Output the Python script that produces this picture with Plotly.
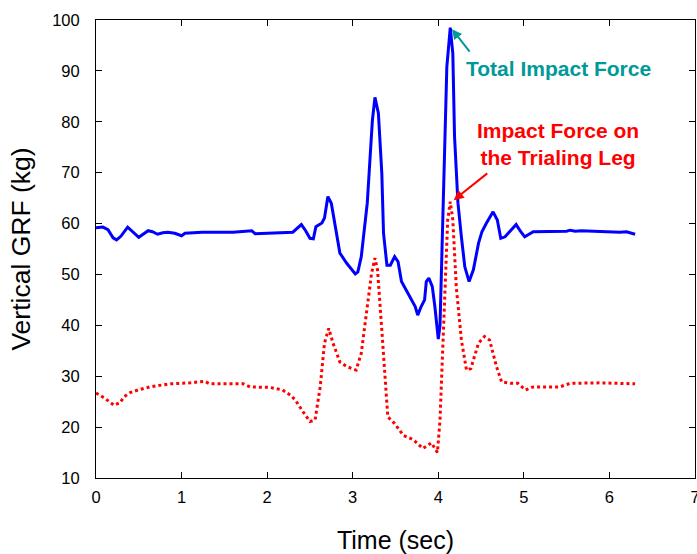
import plotly.graph_objects as go

# Total GRF (blue)
t_total = [0.00, 0.08, 0.14, 0.20, 0.24, 0.29, 0.37, 0.44, 0.50, 0.55, 0.61, 0.66, 0.72, 0.78, 0.84,
           0.92, 1.00, 1.04, 1.24, 1.60, 1.82, 1.86, 2.10, 2.30, 2.40, 2.45, 2.50, 2.54, 2.57, 2.64,
           2.67, 2.71, 2.75, 2.79, 2.85, 2.93, 2.99, 3.03, 3.06, 3.10, 3.17, 3.20, 3.23, 3.26, 3.30,
           3.34, 3.36, 3.40, 3.44, 3.49, 3.53, 3.57, 3.61, 3.67, 3.73, 3.76, 3.80, 3.84, 3.86, 3.89,
           3.93, 3.96, 4.00, 4.02, 4.04, 4.07, 4.10, 4.14, 4.17, 4.19, 4.23, 4.27, 4.31, 4.36, 4.41,
           4.47, 4.51, 4.56, 4.64, 4.69, 4.73, 4.78, 4.85, 4.91, 4.96, 5.01, 5.11, 5.50, 5.54, 5.60,
           5.67, 6.12, 6.20, 6.30]
grf_total = [59.2, 59.3, 58.8, 57.2, 56.8, 57.5, 59.3, 58.2, 57.3, 57.9, 58.6, 58.4, 57.9, 58.2, 58.3,
             58.1, 57.6, 58.1, 58.3, 58.3, 58.6, 58.0, 58.2, 58.3, 59.8, 58.6, 57.1, 57.0, 59.4, 60.1,
             61.1, 65.3, 64.0, 60.1, 54.2, 52.2, 50.9, 50.1, 50.5, 53.5, 64.0, 72.5, 80.3, 84.8, 81.7,
             69.9, 58.1, 51.8, 51.8, 53.5, 52.5, 48.6, 47.3, 45.4, 43.7, 42.0, 43.7, 45.0, 48.6, 49.3,
             47.6, 43.7, 37.3, 40.0, 54.2, 73.9, 90.8, 98.5, 93.4, 77.1, 64.0, 57.4, 51.5, 48.6, 50.9,
             56.1, 58.4, 60.0, 62.3, 60.7, 57.1, 57.4, 58.8, 59.8, 58.5, 57.4, 58.4, 58.5, 58.7, 58.5,
             58.6, 58.3, 58.4, 57.9]

# Trailing leg GRF (red dotted)
t_trail = [0.00, 0.10, 0.21, 0.28, 0.33, 0.40, 0.51, 0.63, 0.86, 1.10, 1.27, 1.33, 1.72, 1.80, 2.03,
           2.18, 2.27, 2.33, 2.42, 2.50, 2.56, 2.62, 2.67, 2.72, 2.77, 2.85, 2.93, 3.04, 3.10, 3.17,
           3.22, 3.26, 3.29, 3.34, 3.38, 3.41, 3.49, 3.59, 3.71, 3.82, 3.92, 3.99, 4.02, 4.05, 4.08,
           4.11, 4.14, 4.17, 4.21, 4.27, 4.33, 4.38, 4.47, 4.54, 4.60, 4.68, 4.74, 4.84, 4.93, 5.02,
           5.11, 5.42, 5.54, 5.89, 6.30]
grf_trail = [26.7, 25.7, 24.3, 24.8, 26.0, 26.8, 27.4, 27.9, 28.5, 28.7, 29.0, 28.5, 28.5, 27.9, 27.8,
             27.3, 26.3, 25.3, 23.0, 21.1, 21.4, 27.9, 36.5, 39.4, 36.5, 32.8, 31.9, 31.2, 34.5, 43.7,
             50.2, 53.2, 50.9, 39.1, 29.3, 22.0, 20.7, 18.4, 17.5, 15.8, 16.9, 15.0, 21.4, 34.5, 50.9,
             60.7, 64.3, 60.7, 47.6, 37.1, 31.2, 31.5, 36.5, 37.8, 37.1, 31.9, 28.9, 28.6, 28.6, 27.3,
             27.9, 27.9, 28.6, 28.7, 28.5]

x_ticks = [0, 1, 2, 3, 4, 5, 6, 7]
y_ticks = [10, 20, 30, 40, 50, 60, 70, 80, 90, 100]

fig = go.Figure()
fig.add_trace(go.Scatter(x=t_total, y=grf_total, mode="lines",
                         line=dict(color="#0000FF", width=3), showlegend=False))
fig.add_trace(go.Scatter(x=t_trail, y=grf_trail, mode="lines",
                         line=dict(color="#FF0000", width=3, dash="dot"), showlegend=False))

teal = "#009999"
fig.add_annotation(x=4.16, y=98.2, ax=4.38, ay=93.5, axref="x", ayref="y", xref="x", yref="y",
                   text="", showarrow=True, arrowhead=2, arrowsize=1, arrowwidth=2, arrowcolor=teal)
fig.add_annotation(x=5.41, y=90.5, xref="x", yref="y", text="<b>Total Impact Force</b>",
                   showarrow=False, font=dict(color=teal, size=21, family="Liberation Sans, Arial"))
fig.add_annotation(x=4.18, y=64.6, ax=4.59, ay=70.1, axref="x", ayref="y", xref="x", yref="y",
                   text="", showarrow=True, arrowhead=2, arrowsize=1, arrowwidth=2, arrowcolor="#FF0000")
fig.add_annotation(x=5.40, y=75.7, xref="x", yref="y", text="<b>Impact Force on<br>the Trialing Leg</b>",
                   showarrow=False, font=dict(color="#FF0000", size=21, family="Liberation Sans, Arial"))

axis_common = dict(showgrid=False, zeroline=False, showline=True, linecolor="black", linewidth=1,
                   mirror="ticks", ticks="inside", ticklen=6, tickcolor="black", automargin=False,
                   tickfont=dict(size=16.5, color="black"))
fig.update_xaxes(range=[0, 7], tickvals=x_ticks, ticktext=[str(v) for v in x_ticks],
                 ticklabeloverflow="allow", ticklabelstandoff=4,
                 title=dict(text="Time (sec)", font=dict(size=25, color="black"), standoff=26),
                 **axis_common)
fig.update_yaxes(range=[10, 100], tickvals=y_ticks, ticktext=[str(v) for v in y_ticks],
                 ticklabelstandoff=12,
                 title=dict(text="Vertical GRF (kg)", font=dict(size=26.5, color="black"), standoff=13),
                 **axis_common)
fig.update_layout(width=697, height=554, margin=dict(l=96, r=2, t=20, b=76),
                  plot_bgcolor="white", paper_bgcolor="white",
                  font=dict(family="Liberation Sans, Arial, sans-serif", color="black"))
fig.write_html("out.html")
